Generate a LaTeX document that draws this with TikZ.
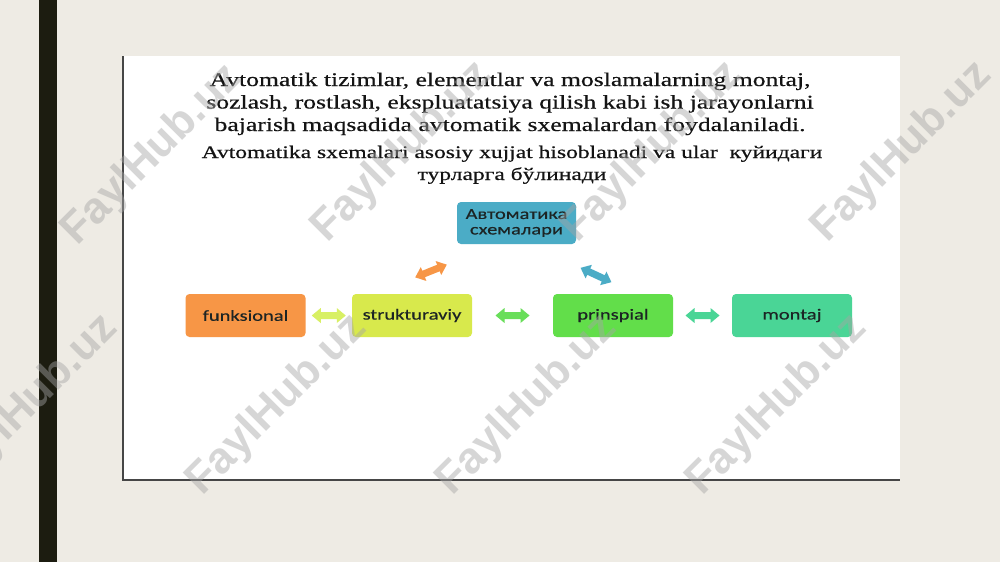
\documentclass[tikz,border=0pt]{standalone}
\usepackage{fontspec}
\setmainfont{Liberation Serif}
\newfontfamily\ttlfont[FakeStretch=1.33,FakeBold=0.5]{Liberation Serif}
\newfontfamily\boxfont[FakeStretch=1.33,FakeBold=0.4]{Carlito}
\newfontfamily\wmfont{Liberation Sans}
\usetikzlibrary{calc}
\definecolor{bgc}{RGB}{238,235,228}
\definecolor{barc}{RGB}{28,28,16}
\definecolor{edgec}{RGB}{70,70,70}
\definecolor{txtc}{RGB}{20,20,20}
\definecolor{boxtxt}{RGB}{28,36,36}
\definecolor{orangec}{RGB}{247,150,70}
\definecolor{limec}{RGB}{216,233,76}
\definecolor{greenc}{RGB}{98,222,74}
\definecolor{mintc}{RGB}{74,213,150}
\definecolor{bluec}{RGB}{75,172,198}
\definecolor{limearr}{RGB}{216,240,100}
\definecolor{greenarr}{RGB}{105,222,90}
\definecolor{wmc}{RGB}{165,165,165}
\begin{document}
\begin{tikzpicture}[x=1pt,y=-1pt,
  ttlA/.style={anchor=base, inner sep=0, text=txtc, font=\ttlfont\fontsize{19.3}{23}\selectfont},
  ttlB/.style={anchor=base, inner sep=0, text=txtc, font=\ttlfont\fontsize{17.7}{22}\selectfont},
  boxnode/.style={rounded corners=4pt, minimum width=120pt, minimum height=43pt, inner sep=0,
    text=boxtxt, align=center, font=\boxfont\fontsize{15.4}{15.5}\selectfont},
  wmark/.style={rotate=45, text=wmc, opacity=0.45, font=\wmfont\bfseries\fontsize{44}{44}\selectfont},
  pics/dblarr/.style={code={
    \fill[#1] (-17,0) -- (-8,-7.5) -- (-8,-3.5) -- (8,-3.5) -- (8,-7.5) -- (17,0)
      -- (8,7.5) -- (8,3.5) -- (-8,3.5) -- (-8,7.5) -- cycle;}}
]
\path[use as bounding box, fill=bgc] (0,0) rectangle (1000,562);
\fill[barc] (39,0) rectangle (57,562);
\fill[white] (122,56) rectangle (900,481);
\draw[line width=1.6pt, edgec] (123,56) -- (123,480.2) -- (900,480.2);

\node[ttlA] (t1) at (510,86) {Avtomatik tizimlar, elementlar va moslamalarning montaj,};
\node[ttlA] (t2) at (510,108.5) {sozlash, rostlash, ekspluatatsiya qilish kabi ish jarayonlarni};
\node[ttlA] (t3) at (510,131) {bajarish maqsadida avtomatik sxemalardan foydalaniladi.};
\node[ttlB] (t4) at (512,158) {Avtomatika sxemalari asosiy xujjat hisoblanadi va ular\ \ куйидаги};
\node[ttlB] (t5) at (512,180) {турларга бўлинади};

\node[boxnode, fill=bluec, minimum width=119pt, minimum height=42pt] (a) at (516.5,223) {Автоматика\\схемалари};
\node[boxnode, fill=orangec] (f) at (245.5,315.5) {funksional};
\node[boxnode, fill=limec] (s) at (412,315.5) {strukturaviy};
\node[boxnode, fill=greenc] (p) at (613,315.5) {prinspial};
\node[boxnode, fill=mintc] (m) at (792,315.5) {montaj};

\pic (fs) at ($(f.east)!0.5!(s.west)$) {dblarr=limearr};
\pic (sp) at ($(s.east)!0.5!(p.west)$) {dblarr=greenarr};
\pic (pm) at ($(p.east)!0.5!(m.west)$) {dblarr=mintc};
\pic[rotate=22] (sa) at (431,271) {dblarr=orangec};
\pic[rotate=-25] (ap) at (596,275) {dblarr=bluec};

\foreach \x/\y [count=\i] in {152/155,402/152,652/152,902/152,28/405,277/405,527/405,777/405}
  \node[wmark] (w\i) at (\x,\y) {FaylHub.uz};
\end{tikzpicture}
\end{document}
